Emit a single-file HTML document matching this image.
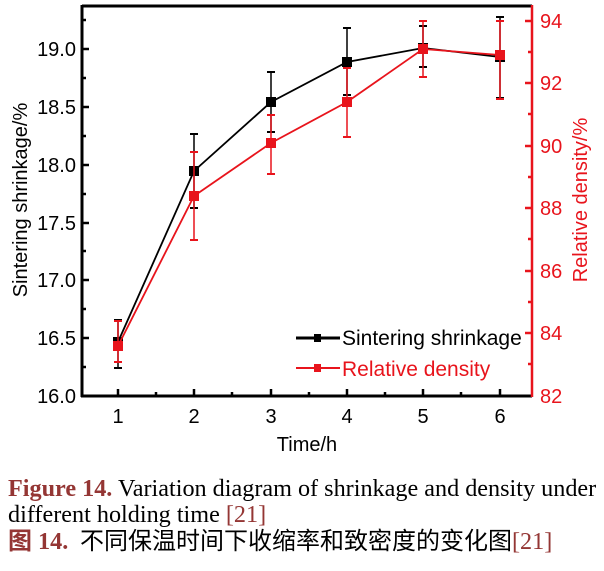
<!DOCTYPE html>
<html><head><meta charset="utf-8"><style>
body{margin:0;width:604px;height:571px;background:#fff;overflow:hidden;position:relative}
.cap{position:absolute;left:8px;font-family:"Liberation Serif","Noto Serif CJK SC",serif;font-size:24.2px;line-height:24px;color:#000;white-space:nowrap}
.r{color:#943634}
.cj{font-family:"Liberation Sans","Noto Sans CJK SC",sans-serif;font-size:24px}
</style></head><body>
<svg width="604" height="460" style="position:absolute;left:0;top:0" font-family="Liberation Sans, sans-serif">
<g stroke="#000" stroke-width="3" fill="none">
<line x1="82" y1="6" x2="532" y2="6"/>
<line x1="82" y1="5" x2="82" y2="397"/>
<line x1="81" y1="396" x2="532" y2="396"/>
</g>
<line x1="532" y1="5" x2="532" y2="397" stroke="#e8141c" stroke-width="2.5"/>
<g stroke="#000" stroke-width="2.5">
<line x1="82" y1="49" x2="89" y2="49"/><line x1="82" y1="107" x2="89" y2="107"/><line x1="82" y1="165" x2="89" y2="165"/><line x1="82" y1="223" x2="89" y2="223"/><line x1="82" y1="280" x2="89" y2="280"/><line x1="82" y1="338" x2="89" y2="338"/>
<line x1="82" y1="20" x2="86" y2="20"/><line x1="82" y1="78" x2="86" y2="78"/><line x1="82" y1="136" x2="86" y2="136"/><line x1="82" y1="194" x2="86" y2="194"/><line x1="82" y1="251" x2="86" y2="251"/><line x1="82" y1="309" x2="86" y2="309"/><line x1="82" y1="367" x2="86" y2="367"/>
<line x1="118" y1="396" x2="118" y2="389"/><line x1="194" y1="396" x2="194" y2="389"/><line x1="271" y1="396" x2="271" y2="389"/><line x1="347" y1="396" x2="347" y2="389"/><line x1="423" y1="396" x2="423" y2="389"/><line x1="500" y1="396" x2="500" y2="389"/>
<line x1="156" y1="396" x2="156" y2="392"/><line x1="232" y1="396" x2="232" y2="392"/><line x1="309" y1="396" x2="309" y2="392"/><line x1="385" y1="396" x2="385" y2="392"/><line x1="461" y1="396" x2="461" y2="392"/>
</g>
<g stroke="#e8141c" stroke-width="2.5">
<line x1="532" y1="21" x2="525" y2="21"/><line x1="532" y1="83" x2="525" y2="83"/><line x1="532" y1="146" x2="525" y2="146"/><line x1="532" y1="208" x2="525" y2="208"/><line x1="532" y1="271" x2="525" y2="271"/><line x1="532" y1="333" x2="525" y2="333"/>
<line x1="532" y1="52" x2="528" y2="52"/><line x1="532" y1="114" x2="528" y2="114"/><line x1="532" y1="177" x2="528" y2="177"/><line x1="532" y1="239" x2="528" y2="239"/><line x1="532" y1="302" x2="528" y2="302"/><line x1="532" y1="364" x2="528" y2="364"/>
</g>
<g font-size="20" fill="#000" text-anchor="end">
<text x="76" y="56">19.0</text><text x="76" y="114">18.5</text><text x="76" y="172">18.0</text><text x="76" y="230">17.5</text><text x="76" y="287">17.0</text><text x="76" y="345">16.5</text><text x="76" y="403">16.0</text>
</g>
<g font-size="20" fill="#000" text-anchor="middle">
<text x="118" y="423">1</text><text x="194" y="423">2</text><text x="271" y="423">3</text><text x="347" y="423">4</text><text x="423" y="423">5</text><text x="500" y="423">6</text>
<text x="307" y="451">Time/h</text>
</g>
<g font-size="20" fill="#e8141c">
<text x="540" y="28">94</text><text x="540" y="90">92</text><text x="540" y="153">90</text><text x="540" y="215">88</text><text x="540" y="278">86</text><text x="540" y="340">84</text><text x="540" y="403">82</text>
</g>
<text transform="translate(27,200) rotate(-90)" font-size="20" text-anchor="middle" fill="#000">Sintering shrinkage/%</text>
<text transform="translate(587,200) rotate(-90)" font-size="20" text-anchor="middle" fill="#e8141c">Relative density/%</text>
<g stroke="#000" stroke-width="1.5">
<line x1="118" y1="368" x2="118" y2="320"/><line x1="194" y1="208" x2="194" y2="134"/><line x1="271" y1="132" x2="271" y2="72"/><line x1="347" y1="95" x2="347" y2="28"/><line x1="423" y1="67" x2="423" y2="26"/><line x1="500" y1="98" x2="500" y2="17"/>
</g>
<g stroke="#000" stroke-width="2">
<line x1="114" y1="368" x2="122" y2="368"/><line x1="114" y1="320" x2="122" y2="320"/><line x1="190" y1="208" x2="198" y2="208"/><line x1="190" y1="134" x2="198" y2="134"/><line x1="267" y1="132" x2="275" y2="132"/><line x1="267" y1="72" x2="275" y2="72"/><line x1="343" y1="95" x2="351" y2="95"/><line x1="343" y1="28" x2="351" y2="28"/><line x1="419" y1="67" x2="427" y2="67"/><line x1="419" y1="26" x2="427" y2="26"/><line x1="496" y1="98" x2="504" y2="98"/><line x1="496" y1="17" x2="504" y2="17"/>
</g>
<polyline points="118,342 194,171 271,102 347,62 423,48 500,57" fill="none" stroke="#000" stroke-width="1.8"/>
<g fill="#000"><rect x="113" y="337" width="10" height="10"/><rect x="189" y="166" width="10" height="10"/><rect x="266" y="97" width="10" height="10"/><rect x="342" y="57" width="10" height="10"/><rect x="418" y="43" width="10" height="10"/><rect x="495" y="52" width="10" height="10"/></g>
<g stroke="#e8141c" stroke-width="1.5">
<line x1="118" y1="362" x2="118" y2="321"/><line x1="194" y1="240" x2="194" y2="152"/><line x1="271" y1="174" x2="271" y2="115"/><line x1="347" y1="137" x2="347" y2="68"/><line x1="423" y1="77" x2="423" y2="21"/><line x1="500" y1="99" x2="500" y2="21"/>
</g>
<g stroke="#e8141c" stroke-width="2">
<line x1="114" y1="362" x2="122" y2="362"/><line x1="114" y1="321" x2="122" y2="321"/><line x1="190" y1="240" x2="198" y2="240"/><line x1="190" y1="152" x2="198" y2="152"/><line x1="267" y1="174" x2="275" y2="174"/><line x1="267" y1="115" x2="275" y2="115"/><line x1="343" y1="137" x2="351" y2="137"/><line x1="343" y1="68" x2="351" y2="68"/><line x1="419" y1="77" x2="427" y2="77"/><line x1="419" y1="21" x2="427" y2="21"/><line x1="496" y1="99" x2="504" y2="99"/><line x1="496" y1="21" x2="504" y2="21"/>
</g>
<polyline points="118,346 194,196 271,143 347,102 423,49 500,55" fill="none" stroke="#e8141c" stroke-width="1.8"/>
<g fill="#e8141c"><rect x="113" y="341" width="10" height="10"/><rect x="189" y="191" width="10" height="10"/><rect x="266" y="138" width="10" height="10"/><rect x="342" y="97" width="10" height="10"/><rect x="418" y="44" width="10" height="10"/><rect x="495" y="50" width="10" height="10"/></g>
<line x1="296" y1="338" x2="340" y2="338" stroke="#000" stroke-width="3"/><rect x="314" y="334" width="7" height="8" fill="#000"/>
<text x="342" y="345" font-size="21" fill="#000">Sintering shrinkage</text>
<line x1="296" y1="368" x2="340" y2="368" stroke="#e8141c" stroke-width="2"/><rect x="314" y="364" width="7" height="8" fill="#e8141c"/>
<text x="342" y="376" font-size="21" fill="#e8141c">Relative density</text>
</svg>
<div class="cap" style="top:477px"><b class="r">Figure 14.</b> Variation diagram of shrinkage and density under</div>
<div class="cap" style="top:503px">different holding time <span class="r">[21]</span></div>
<div class="cap" style="top:530px"><b class="r"><span class="cj">图</span> 14.</b></div>
<div class="cap" style="top:530px;left:80px"><span class="cj">不同保温时间下收缩率和致密度的变化图</span><span class="r">[21]</span></div>
</body></html>
